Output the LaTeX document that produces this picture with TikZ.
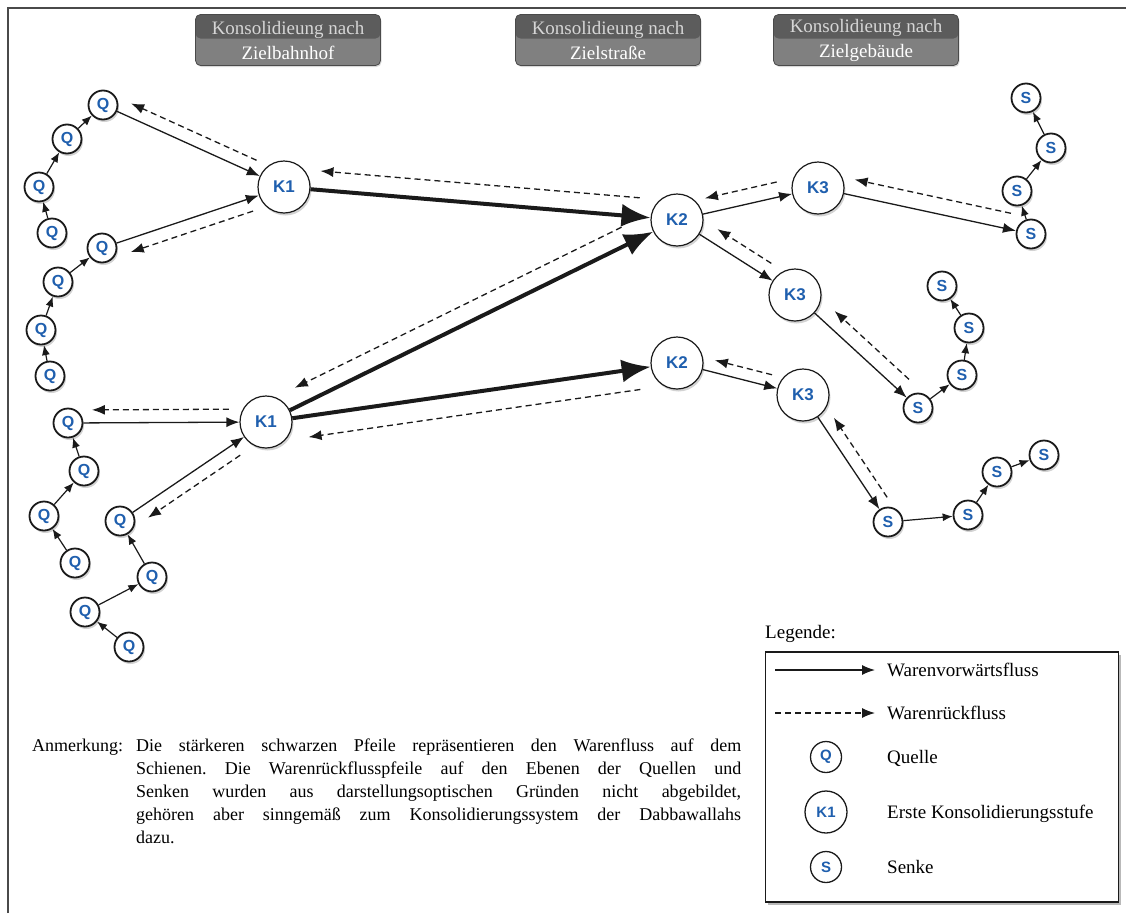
\documentclass[tikz,border=0pt]{standalone}
\usepackage{fontspec}
\setmainfont{Liberation Serif}
\newfontfamily\knotenfont{Liberation Sans}
\usetikzlibrary{arrows.meta,positioning,calc,shadows}
\definecolor{Ink}{HTML}{1A1A1A}
\definecolor{LabelBlue}{HTML}{1F5FAE}
\definecolor{KopfDunkel}{HTML}{5C5C5C}
\definecolor{KopfHell}{HTML}{808080}
\definecolor{KopfRand}{HTML}{4A4A4A}
\definecolor{KopfText}{HTML}{D6D6D6}
\frenchspacing

\newcommand{\rueck}[5]{\draw[rueckfluss] ($ ($(#1)!#3!(#2)$) !#5!90:(#2) $) -- ($ ($(#2)!#4!(#1)$) !#5!-90:(#1) $);}

\begin{document}
\begin{tikzpicture}[x=1pt,y=-1pt,
  punkt/.style={circle,draw=Ink,line width=1.8pt,fill=white,minimum size=29pt,inner sep=0pt,text=LabelBlue,font=\knotenfont\bfseries\fontsize{16}{16}\selectfont,drop shadow={opacity=0.35,shadow xshift=1.5pt,shadow yshift=-2.5pt}},
  stufe/.style={punkt,line width=1.2pt,minimum size=52pt,font=\knotenfont\bfseries\fontsize{17}{17}\selectfont},
  legpunkt/.style={circle,draw=Ink,line width=1.3pt,fill=white,inner sep=0pt,text=LabelBlue,font=\knotenfont\bfseries\fontsize{15}{15}\selectfont},
  kette/.style={Ink,line width=1.2pt,-{Latex[length=10pt,width=8pt]}},
  vorwaerts/.style={Ink,line width=1.3pt,-{Latex[length=13pt,width=10pt]}},
  schiene/.style={Ink,line width=4pt,-{Latex[length=29pt,width=23pt]}},
  rueckfluss/.style={Ink,line width=1.3pt,dash pattern=on 6pt off 4pt,-{Latex[length=13pt,width=10pt]}},
  kopf/.style={draw=KopfRand,line width=0.8pt,rounded corners=5pt,fill=KopfHell,minimum width=185pt,minimum height=51pt,inner sep=0pt,align=center,font=\fontsize{19}{25}\selectfont,path picture={\fill[KopfDunkel] (path picture bounding box.north west) rectangle ([yshift=1.5pt]path picture bounding box.east);},drop shadow={opacity=0.3,shadow xshift=1pt,shadow yshift=-1.5pt}},
  anmtext/.style={anchor=north west,inner sep=0pt,font=\fontsize{18}{23}\selectfont},
  legtext/.style={anchor=base west,inner sep=0pt,font=\fontsize{19}{23}\selectfont}]
\useasboundingbox (0,0) rectangle (1126,913);
\draw[KopfRand,line width=2.2pt] (8,913) -- (8,8) -- (1126,8);

\node[kopf] (kopfA) at (288,40) {\textcolor{KopfText}{Konsolidieung nach}\\\textcolor{white}{Zielbahnhof}};
\node[kopf] (kopfB) at (608,40) {\textcolor{KopfText}{Konsolidieung nach}\\\textcolor{white}{Zielstraße}};
\node[kopf] (kopfC) at (866,40) {\textcolor{KopfText}{Konsolidieung nach}\\\textcolor{white}{Zielgebäude}};

\foreach \n/\x/\y in {q1/103/105,q2/67/139,q3/39/187,q4/52/233,q5/102/248,q6/58/282,q7/41/330,q8/50/376,q9/68/423,q10/84/471,q11/44/516,q12/75/563,q13/120/521,q14/152/577,q15/85/612,q16/129/647}
  \node[punkt] (\n) at (\x,\y) {Q};
\foreach \n/\x/\y in {s1/1026/98,s2/1051/148,s3/1017/191,s4/1031/234,s5/942/286,s6/969/328,s7/962/375,s8/918/408,s9/888/522,s10/968/515,s11/997/472,s12/1044/455}
  \node[punkt] (\n) at (\x,\y) {S};
\node[stufe] (k1a) at (284,187) {K1};
\node[stufe] (k1b) at (266,422) {K1};
\node[stufe] (k2a) at (677,220) {K2};
\node[stufe] (k2b) at (677,363) {K2};
\node[stufe] (k3a) at (818,188) {K3};
\node[stufe] (k3b) at (795,295) {K3};
\node[stufe] (k3c) at (803,395) {K3};

\foreach \a/\b in {q4/q3,q3/q2,q2/q1,q8/q7,q7/q6,q6/q5,q12/q11,q11/q10,q10/q9,q16/q15,q15/q14,q14/q13,s4/s3,s3/s2,s2/s1,s8/s7,s7/s6,s6/s5,s9/s10,s10/s11,s11/s12}
  \draw[kette] (\a) -- (\b);
\foreach \a/\b in {q1/k1a,q5/k1a,q9/k1b,q13/k1b,k2a/k3a,k2a/k3b,k2b/k3c,k3a/s4,k3b/s8,k3c/s9}
  \draw[vorwaerts] (\a) -- (\b);
\foreach \a/\b in {k1a/k2a,k1b/k2a,k1b/k2b}
  \draw[schiene] (\a) -- (\b);
\foreach \a/\b/\s/\e/\o in {k1a/q1/36pt/25pt/-13pt,k1a/q5/37pt/26pt/13pt,k2a/k1a/39pt/35pt/-19pt,k2a/k1b/53pt/41pt/-18pt,k2b/k1b/40pt/40pt/21pt,k1b/q9/37pt/24pt/-13pt,k1b/q13/40pt/25pt/13pt,k3a/k2a/39pt/32pt/-15pt,k3b/k2a/37pt/39pt/-14pt,k3c/k2b/35pt/36pt/-12pt,s4/k3a/24pt/34pt/-16pt,s8/k3b/26pt/40pt/-15pt,s9/k3c/21pt/36pt/-13pt}
  \rueck{\a}{\b}{\s}{\e}{\o};

\node[anmtext,text width=104pt] (anmerkung) at (32,735) {\strut Anmerkung:};
\node[anmtext,text width=605pt,align=justify] (anmtext) at (136,735)
  {\strut Die stärkeren schwarzen Pfeile repräsentieren den Warenfluss auf dem\linebreak Schienen. Die Warenrückflusspfeile auf den Ebenen der Quellen und\linebreak Senken wurden aus darstellungsoptischen Gründen nicht abgebildet,\linebreak gehören aber sinngemäß zum Konsolidierungssystem der Dabbawallahs\linebreak dazu.};

\node[legtext] (legtitel) at (765,638) {Legende:};
\node[draw=Ink,line width=1.5pt,fill=white,minimum width=353pt,minimum height=250pt,drop shadow={opacity=0.55,shadow xshift=2.5pt,shadow yshift=-3pt}] (legende) at (942,777) {};
\coordinate (lgV1) at (775,670);
\coordinate (lgV2) at (875,670);
\coordinate (lgR1) at (775,713);
\coordinate (lgR2) at (875,713);
\draw[vorwaerts] (lgV1) -- (lgV2);
\draw[rueckfluss] (lgR1) -- (lgR2);
\node[legpunkt,minimum size=31pt] (lgQ) at (826,757) {Q};
\node[legpunkt,minimum size=42pt] (lgK) at (826,812) {K1};
\node[legpunkt,minimum size=31pt] (lgS) at (826,867) {S};
\node[legtext] (lgVt) at (887,676) {Warenvorwärtsfluss};
\node[legtext] (lgRt) at (887,719) {Warenrückfluss};
\node[legtext] (lgQt) at (887,763) {Quelle};
\node[legtext] (lgKt) at (887,818) {Erste Konsolidierungsstufe};
\node[legtext] (lgSt) at (887,873) {Senke};
\end{tikzpicture}
\end{document}
